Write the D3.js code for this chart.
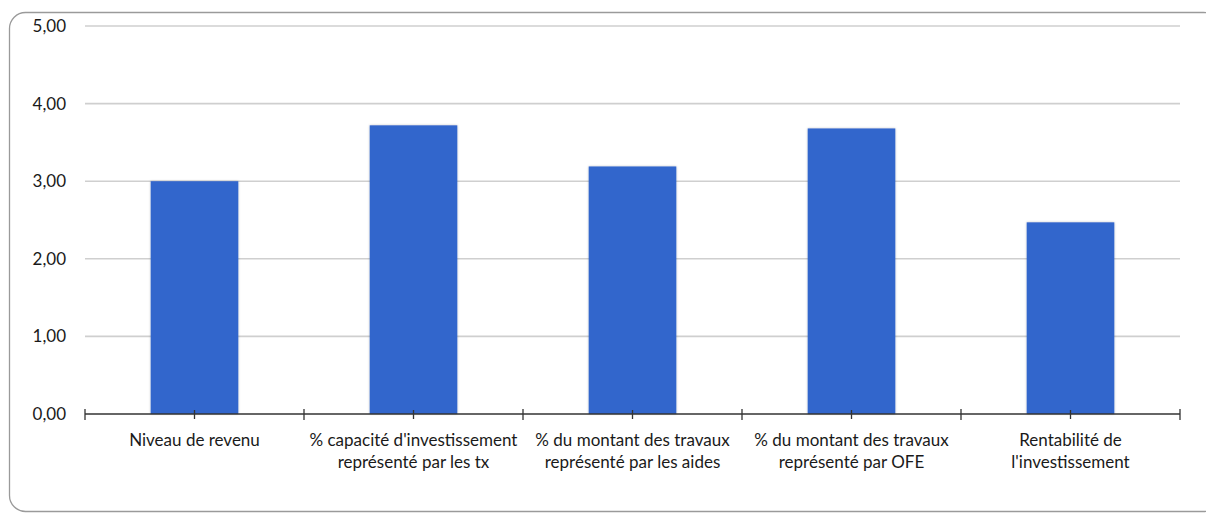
<!DOCTYPE html>
<html>
<head>
<meta charset="utf-8">
<script src="https://cdn.jsdelivr.net/npm/d3@7"></script>
<style>
  html, body { margin: 0; padding: 0; background: #fff; }
  svg { display: block; }
  text { font-family: Lato, "Open Sans", sans-serif; fill: #1a1a1a; }
</style>
</head>
<body>
<svg id="chart" width="1206" height="515"></svg>
<script>
const categories = [
  ["Niveau de revenu"],
  ["% capacité d'investissement", "représenté par les tx"],
  ["% du montant des travaux", "représenté par les aides"],
  ["% du montant des travaux", "représenté par OFE"],
  ["Rentabilité de", "l'investissement"]
];
const values = [3.00, 3.72, 3.19, 3.68, 2.47];
const yTicks = [0, 1, 2, 3, 4, 5];

const svg = d3.select("#chart");
const margin = { left: 85, right: 1180, top: 26, bottom: 414 };

svg.append("rect")
  .attr("x", 9.5).attr("y", 12.5)
  .attr("width", 1210).attr("height", 499)
  .attr("rx", 16).attr("ry", 16)
  .attr("fill", "none").attr("stroke", "#9a9a9a").attr("stroke-width", 1.3);

const x = d3.scaleBand()
  .domain(d3.range(categories.length))
  .range([margin.left, margin.right])
  .paddingInner(0.6).paddingOuter(0.3);

const y = d3.scaleLinear().domain([0, 5]).range([margin.bottom, margin.top]);

// gridlines
svg.append("g")
  .selectAll("line")
  .data(yTicks.filter(d => d > 0))
  .join("line")
  .attr("x1", margin.left).attr("x2", margin.right)
  .attr("y1", d => y(d)).attr("y2", d => y(d))
  .attr("stroke", "#cfcfcf").attr("stroke-width", 1.6);

// y labels
const fmt = d => d3.format(".2f")(d).replace(".", ",");
svg.append("g")
  .selectAll("text")
  .data(yTicks)
  .join("text")
  .attr("x", 66).attr("y", d => y(d))
  .attr("dy", "0.35em")
  .attr("text-anchor", "end")
  .attr("font-size", 17)
  .text(fmt);

// bars with subtle shadow
const defs = svg.append("defs");
const f = defs.append("filter").attr("id", "sh").attr("x", "-10%").attr("y", "-10%").attr("width", "120%").attr("height", "120%");
f.append("feDropShadow").attr("dx", 0).attr("dy", 0).attr("stdDeviation", 0.8).attr("flood-color", "#000").attr("flood-opacity", 0.25);

svg.append("g")
  .selectAll("rect")
  .data(values)
  .join("rect")
  .attr("x", (d, i) => x(i))
  .attr("width", x.bandwidth())
  .attr("y", d => y(d))
  .attr("height", d => y(0) - y(d))
  .attr("fill", "#3366cc")
  .attr("filter", "url(#sh)");

// x axis line and ticks
const boundaries = d3.range(categories.length + 1).map(i => margin.left + i * (margin.right - margin.left) / categories.length);
const centers = d3.range(categories.length).map(i => x(i) + x.bandwidth() / 2);
const ax = svg.append("g");
ax.append("line")
  .attr("x1", margin.left).attr("x2", margin.right)
  .attr("y1", y(0)).attr("y2", y(0))
  .attr("stroke", "#333").attr("stroke-width", 1.3);
ax.selectAll("line.b").data(boundaries).join("line").attr("class", "b")
  .attr("x1", d => d).attr("x2", d => d)
  .attr("y1", y(0) - 5).attr("y2", y(0) + 6)
  .attr("stroke", "#333").attr("stroke-width", 1.3);
ax.selectAll("line.c").data(centers).join("line").attr("class", "c")
  .attr("x1", d => d).attr("x2", d => d)
  .attr("y1", y(0) - 4).attr("y2", y(0) + 5)
  .attr("stroke", "#333").attr("stroke-width", 1.3);

// x labels
const lbl = svg.append("g")
  .selectAll("text")
  .data(categories)
  .join("text")
  .attr("text-anchor", "middle")
  .attr("font-size", 17)
  .attr("x", (d, i) => centers[i])
  .attr("y", 446);
lbl.selectAll("tspan")
  .data(d => d)
  .join("tspan")
  .attr("x", function() { return d3.select(this.parentNode).attr("x"); })
  .attr("dy", (d, j) => j === 0 ? 0 : 22)
  .text(d => d);
</script>
</body>
</html>
